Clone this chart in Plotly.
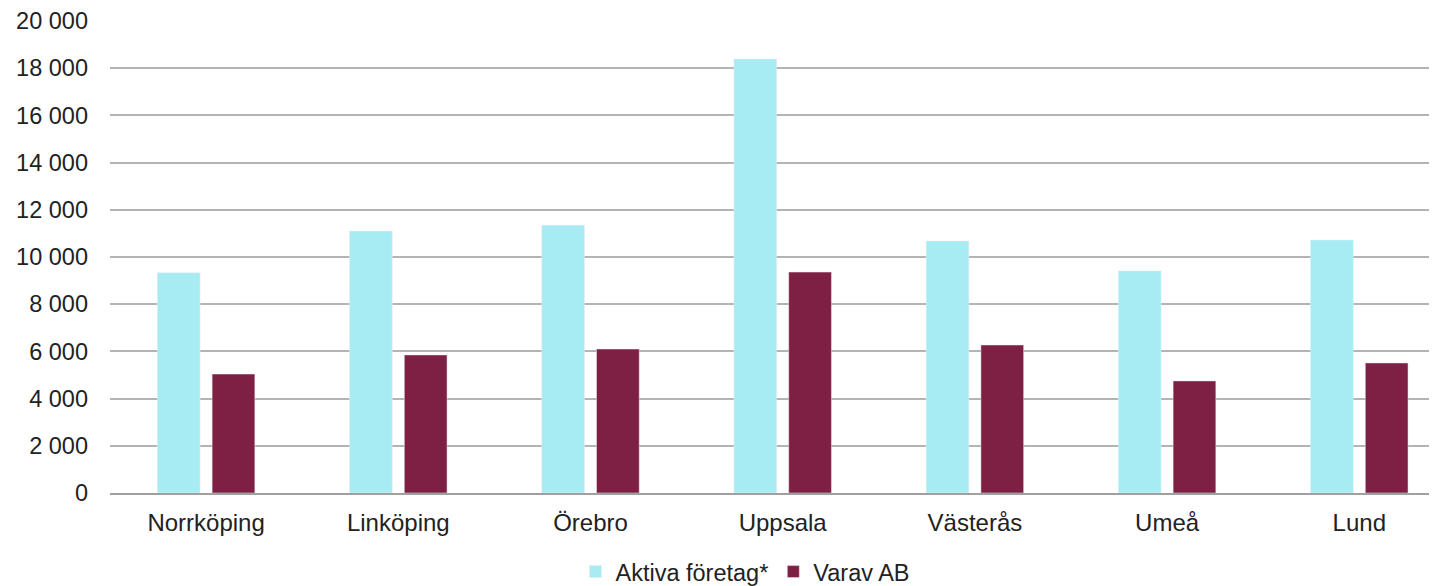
import plotly.graph_objects as go

categories = ["Norrköping", "Linköping", "Örebro", "Uppsala", "Västerås", "Umeå", "Lund"]
aktiva = [9330, 11100, 11350, 18390, 10680, 9410, 10720]
varav_ab = [5040, 5850, 6100, 9360, 6270, 4750, 5510]
y_ticks = [0, 2000, 4000, 6000, 8000, 10000, 12000, 14000, 16000, 18000, 20000]
y_tick_labels = ["0", "2 000", "4 000", "6 000", "8 000", "10 000", "12 000", "14 000", "16 000", "18 000", "20 000"]

fig = go.Figure()
fig.add_trace(go.Bar(x=categories, y=aktiva, name="Aktiva företag*", marker_color="#a6ecf2"))
fig.add_trace(go.Bar(x=categories, y=varav_ab, name="Varav AB", marker_color="#7e1f44"))

fig.update_layout(
    width=1437, height=586,
    margin=dict(l=102, r=0, t=13, b=101),
    paper_bgcolor="white", plot_bgcolor="white",
    barmode="group", bargap=0.43, bargroupgap=0.22,
    font=dict(family="Liberation Sans, Arial, sans-serif", size=23.5, color="#222222"),
    legend=dict(orientation="h", x=0.476, xanchor="center", y=-0.167, yanchor="middle",
                font=dict(size=23.5), itemwidth=30, tracegroupgap=0),
    showlegend=True,
)
fig.update_xaxes(range=[-0.5, 6.446], showgrid=False, showline=True, linecolor="#a0a0a0",
                 linewidth=2, ticks="", ticklabelstandoff=7, fixedrange=True,
                 automargin=False, tickfont=dict(size=24))
fig.update_yaxes(range=[0, 20000], tickvals=y_ticks, ticktext=y_tick_labels,
                 showgrid=True, gridcolor="#b4b4b4", gridwidth=2, zeroline=False,
                 ticks="", ticklabelstandoff=21, showline=False, automargin=False,
                 tickfont=dict(size=23.5))

fig.write_html("out.html")
